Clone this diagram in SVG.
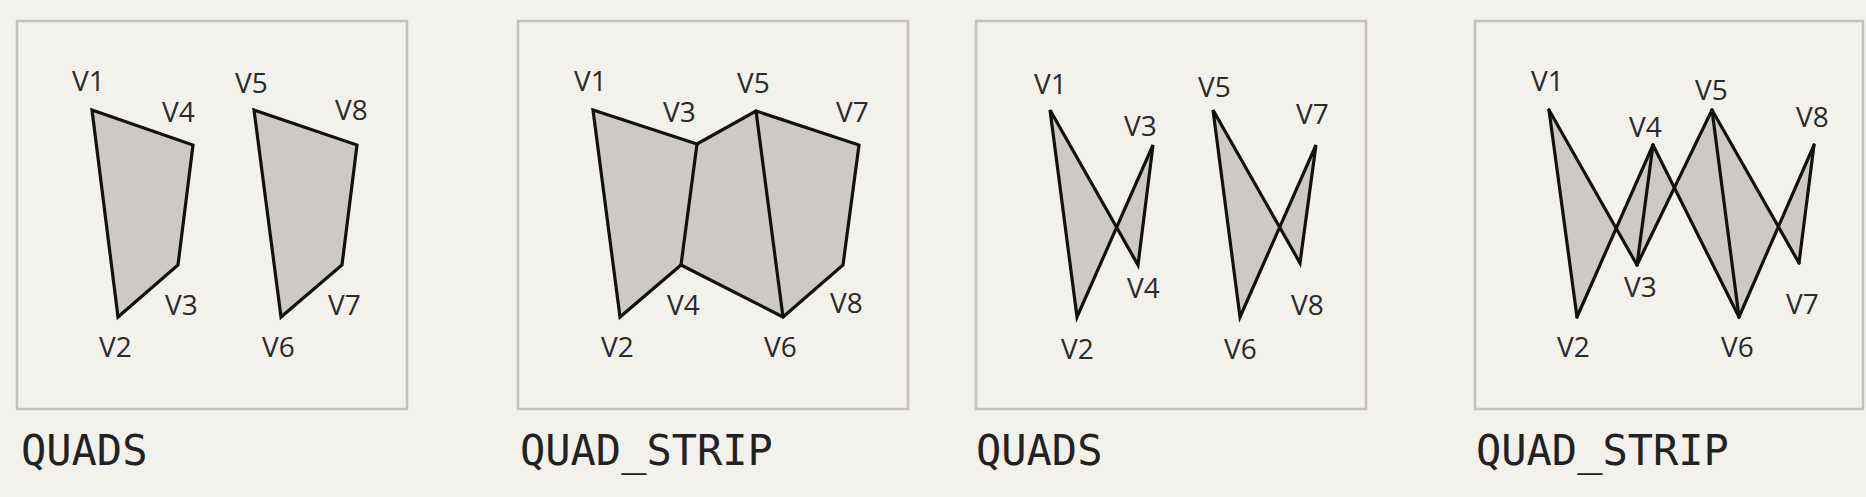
<svg xmlns="http://www.w3.org/2000/svg" width="1866" height="497" viewBox="0 0 1866 497">
<style>
.bg{fill:#f3f1ec}
.frame{fill:none;stroke:#c4c2be;stroke-width:2.5}
.shape{fill:#cdcac5;stroke:none}
.edge{fill:none;stroke:#111;stroke-width:3.2;stroke-linejoin:miter;stroke-linecap:round}
.v{font-family:"Open Sans","DejaVu Sans",sans-serif;font-size:28px;fill:#2a2a2a}
.title{font-family:"DejaVu Sans Mono","Liberation Mono",monospace;font-size:42px;fill:#222}
</style>
<rect class="bg" x="0" y="0" width="1866" height="497"/>

<g id="panel1">
  <rect class="frame" x="17" y="21" width="390" height="388"/>
  <polygon class="shape" points="92,110 193,145 178,265 118,317"/>
  <polygon class="shape" points="254,110 357,145 342,265 281,317"/>
  <polygon class="edge" points="92,110 193,145 178,265 118,317"/>
  <polygon class="edge" points="254,110 357,145 342,265 281,317"/>
  <text class="v" x="72" y="91">V1</text>
  <text class="v" x="162" y="122">V4</text>
  <text class="v" x="165" y="315">V3</text>
  <text class="v" x="99" y="357">V2</text>
  <text class="v" x="235" y="93">V5</text>
  <text class="v" x="335" y="120">V8</text>
  <text class="v" x="328" y="315">V7</text>
  <text class="v" x="262" y="357">V6</text>
  <text class="title" x="21" y="465">QUADS</text>
</g>

<g id="panel2">
  <rect class="frame" x="518" y="21" width="390" height="388"/>
  <polygon class="shape" points="593,110 697,144 756,111 859,145 843,265 783,317 681,265 620,317"/>
  <polygon class="edge" points="593,110 697,144 756,111 859,145 843,265 783,317 681,265 620,317"/>
  <line class="edge" x1="697" y1="144" x2="681" y2="265"/>
  <line class="edge" x1="756" y1="111" x2="783" y2="317"/>
  <text class="v" x="574" y="91">V1</text>
  <text class="v" x="663" y="122">V3</text>
  <text class="v" x="737" y="93">V5</text>
  <text class="v" x="836" y="122">V7</text>
  <text class="v" x="667" y="315">V4</text>
  <text class="v" x="830" y="313">V8</text>
  <text class="v" x="601" y="357">V2</text>
  <text class="v" x="764" y="357">V6</text>
  <text class="title" x="520" y="465">QUAD_STRIP</text>
</g>

<g id="panel3">
  <rect class="frame" x="976" y="21" width="390" height="388"/>
  <polygon class="shape" points="1050,110 1138,265 1153,145 1077,317"/>
  <polygon class="shape" points="1213,110 1300,263 1316,145 1240,317"/>
  <polygon class="edge" points="1050,110 1138,265 1153,145 1077,317"/>
  <polygon class="edge" points="1213,110 1300,263 1316,145 1240,317"/>
  <text class="v" x="1034" y="94">V1</text>
  <text class="v" x="1124" y="136">V3</text>
  <text class="v" x="1127" y="298">V4</text>
  <text class="v" x="1061" y="359">V2</text>
  <text class="v" x="1198" y="97">V5</text>
  <text class="v" x="1296" y="124">V7</text>
  <text class="v" x="1291" y="315">V8</text>
  <text class="v" x="1224" y="359">V6</text>
  <text class="title" x="976" y="465">QUADS</text>
</g>

<g id="panel4">
  <rect class="frame" x="1475" y="21" width="388" height="388"/>
  <polygon class="shape" points="1549,110 1637,265 1653,145 1577,317"/>
  <polygon class="shape" points="1637,265 1712,110 1739,317 1653,145"/>
  <polygon class="shape" points="1712,110 1799,263 1814,145 1739,317"/>
  <g class="connectors">
    <line class="edge" x1="1549" y1="110" x2="1577" y2="317"/>
    <line class="edge" x1="1549" y1="110" x2="1637" y2="265"/>
    <line class="edge" x1="1577" y1="317" x2="1653" y2="145"/>
    <line class="edge" x1="1637" y1="265" x2="1653" y2="145"/>
    <line class="edge" x1="1637" y1="265" x2="1712" y2="110"/>
    <line class="edge" x1="1653" y1="145" x2="1739" y2="317"/>
    <line class="edge" x1="1712" y1="110" x2="1739" y2="317"/>
    <line class="edge" x1="1712" y1="110" x2="1799" y2="263"/>
    <line class="edge" x1="1739" y1="317" x2="1814" y2="145"/>
    <line class="edge" x1="1799" y1="263" x2="1814" y2="145"/>
  </g>
  <text class="v" x="1531" y="91">V1</text>
  <text class="v" x="1629" y="137">V4</text>
  <text class="v" x="1695" y="100">V5</text>
  <text class="v" x="1796" y="127">V8</text>
  <text class="v" x="1624" y="297">V3</text>
  <text class="v" x="1786" y="314">V7</text>
  <text class="v" x="1557" y="357">V2</text>
  <text class="v" x="1721" y="357">V6</text>
  <text class="title" x="1476" y="465">QUAD_STRIP</text>
</g>
</svg>
